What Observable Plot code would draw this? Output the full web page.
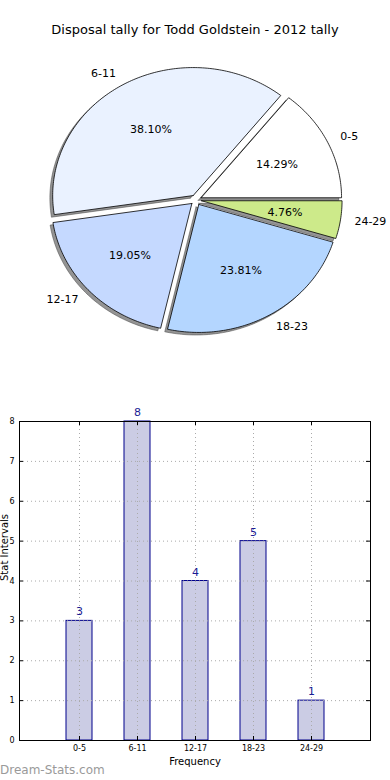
<!DOCTYPE html>
<html><head><meta charset="utf-8">
<script src="https://cdn.jsdelivr.net/npm/d3@7"></script>
<script src="https://cdn.jsdelivr.net/npm/@observablehq/plot@0.6"></script>
<style>
body{margin:0;background:#fff;}
#wrap{position:relative;width:390px;height:780px;overflow:hidden;font-family:"DejaVu Sans",sans-serif;}
#title{position:absolute;top:22px;left:0;width:390px;text-align:center;font-size:13px;color:#000;white-space:nowrap;}
#pie{position:absolute;top:0;left:0;}
#bar{position:absolute;top:390px;left:0;}
#wm{position:absolute;left:0;top:763px;font-size:12px;color:#9a9a9a;font-weight:normal;white-space:nowrap;}
svg{overflow:visible;}
</style></head>
<body>
<div id="wrap">
  <div id="pie"></div>
  <div id="bar"></div>
  <div id="title"></div>
  <div id="wm"></div>
</div>
<script>
const titleText = "Disposal tally for Todd Goldstein - 2012 tally";
const intervals = ["0-5", "6-11", "12-17", "18-23", "24-29"];
const counts = [3, 8, 4, 5, 1];
const pieColors = ["#ffffff", "#eaf2ff", "#c5d9ff", "#b4d6ff", "#cdea8a"];
const yTicks = [0, 1, 2, 3, 4, 5, 6, 7, 8];
const xLabel = "Frequency";
const yLabel = "Stat Intervals";
const watermark = "Dream-Stats.com";

document.getElementById("title").textContent = titleText;
document.getElementById("wm").textContent = watermark;

// ---------- Pie ----------
const total = d3.sum(counts);
const explode = 0.04;
const shadowOff = 0.02;
let acc = 0;
const slices = intervals.map((k, i) => {
  const a0 = acc / total * 360;
  acc += counts[i];
  const a1 = acc / total * 360;
  const m = (a0 + a1) / 2 * Math.PI / 180;
  return {k, i, a0, a1, m, ox: explode * Math.cos(m), oy: explode * Math.sin(m),
          pct: (counts[i] / total * 100).toFixed(2) + "%", fill: pieColors[i]};
});
function wedgePts(s, dx, dy, tag) {
  const pts = [{k: tag + s.k, x: s.ox + dx, y: s.oy + dy, fill: s.fill}];
  const n = Math.max(2, Math.ceil((s.a1 - s.a0) / 1));
  for (let j = 0; j <= n; j++) {
    const t = (s.a0 + (s.a1 - s.a0) * j / n) * Math.PI / 180;
    pts.push({k: tag + s.k, x: Math.cos(t) + s.ox + dx, y: Math.sin(t) + s.oy + dy, fill: s.fill});
  }
  pts.push({k: tag + s.k, x: s.ox + dx, y: s.oy + dy, fill: s.fill});
  return pts;
}
const wedges = slices.flatMap(s => wedgePts(s, 0, 0, "w"));
const shadows = slices.flatMap(s => wedgePts(s, -shadowOff, -shadowOff, "s"));
const labels = slices.map(s => ({k: s.k, x: 1.1 * Math.cos(s.m) + s.ox, y: 1.1 * Math.sin(s.m) + s.oy, right: Math.cos(s.m) > 0}));
const pcts = slices.map(s => ({t: s.pct, x: 0.6 * Math.cos(s.m) + s.ox, y: 0.6 * Math.sin(s.m) + s.oy}));

const cx = 195.5, cy = 199.5, rx = 140.5, ry = 128, PH = 390;
const pie = Plot.plot({
  width: 390, height: PH, margin: 0,
  x: {domain: [-cx / rx, (390 - cx) / rx], range: [0, 390], axis: null},
  y: {domain: [-(PH - cy) / ry, cy / ry], range: [PH, 0], axis: null},
  color: {type: "identity"},
  style: {fontFamily: "DejaVu Sans, sans-serif"},
  marks: [
    Plot.line(shadows, {x: "x", y: "y", z: "k", fill: "#5a5a5a", fillOpacity: 0.65, stroke: "#444", strokeOpacity: 0.5, strokeWidth: 1, curve: "linear"}),
    Plot.line(wedges, {x: "x", y: "y", z: "k", fill: "fill", stroke: "#000", strokeWidth: 0.8, curve: "linear"}),
    Plot.text(labels.filter(d => d.right), {x: "x", y: "y", text: "k", textAnchor: "start", fontSize: 11, fill: "#000"}),
    Plot.text(labels.filter(d => !d.right), {x: "x", y: "y", text: "k", textAnchor: "end", fontSize: 11, fill: "#000"}),
    Plot.text(pcts, {x: "x", y: "y", text: "t", fontSize: 11, fill: "#000"})
  ]
});
document.getElementById("pie").appendChild(pie);

// ---------- Bars ----------
const barData = intervals.map((k, i) => ({k, v: counts[i]}));
const FW = 351, FH = 319;
const bar = Plot.plot({
  width: 390, height: 390,
  marginLeft: 19, marginRight: 20, marginTop: 31, marginBottom: 40,
  x: {domain: intervals, paddingInner: 0.556, paddingOuter: 0.778, tickSize: 0, tickPadding: 5, label: null},
  y: {domain: [0, 8], ticks: yTicks, tickSize: 0, tickPadding: 5, label: null},
  style: {fontFamily: "DejaVu Sans, sans-serif", fontSize: "8px", color: "#000"},
  marks: [
    Plot.barY(barData, {x: "k", y: "v", fill: "#cbcce4", stroke: "#00008b", strokeWidth: 1}),
    Plot.tickY(yTicks, {y: d => d, stroke: "#aaa", strokeDasharray: "1,3", strokeWidth: 1}),
    Plot.tickX(intervals, {x: d => d, stroke: "#aaa", strokeDasharray: "1,3", strokeWidth: 1}),
    Plot.tickY(yTicks, {y: d => d, stroke: "#000", insetRight: FW - 4}),
    Plot.tickY(yTicks, {y: d => d, stroke: "#000", insetLeft: FW - 4}),
    Plot.tickX(intervals, {x: d => d, stroke: "#000", insetTop: FH - 4}),
    Plot.tickX(intervals, {x: d => d, stroke: "#000", insetBottom: FH - 4}),
    Plot.frame({stroke: "#000", strokeWidth: 1}),
    Plot.text(barData, {x: "k", y: "v", text: d => String(d.v), dy: -9, fontSize: 11, fill: "#1c1c94"}),
    Plot.text([xLabel], {frameAnchor: "bottom", lineAnchor: "middle", dy: 21, text: d => d, fontSize: 10, fill: "#000"}),
    Plot.text([yLabel], {frameAnchor: "left", lineAnchor: "middle", dx: -15, rotate: -90, text: d => d, fontSize: 10, fill: "#000"})
  ]
});
document.getElementById("bar").appendChild(bar);
</script>
</body></html>
